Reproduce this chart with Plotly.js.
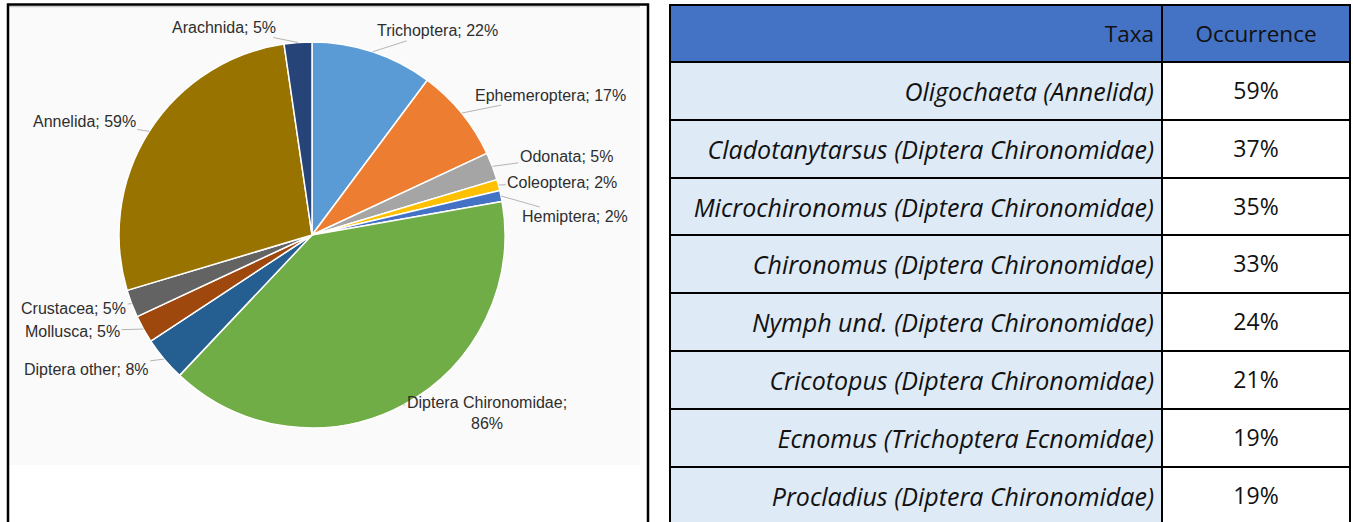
<!DOCTYPE html>
<html><head><meta charset="utf-8">
<script src="https://cdn.plot.ly/plotly-3.0.1.min.js"></script>
<style>html,body{margin:0;padding:0;overflow:hidden;background:#fff}</style>
</head><body><div id="chart" style="width:1353px;height:540px"></div>
<script>
// ---------- data ----------
const groups = ['Trichoptera','Ephemeroptera','Odonata','Coleoptera','Hemiptera','Diptera Chironomidae','Diptera other','Mollusca','Crustacea','Annelida','Arachnida'];
const groupOccurrence = [22,17,5,2,2,86,8,5,5,59,5];
const tableHeader = ['Taxa','Occurrence'];
const taxa = ['Oligochaeta (Annelida)','Cladotanytarsus (Diptera Chironomidae)','Microchironomus (Diptera Chironomidae)','Chironomus (Diptera Chironomidae)','Nymph und. (Diptera Chironomidae)','Cricotopus (Diptera Chironomidae)','Ecnomus (Trichoptera Ecnomidae)','Procladius (Diptera Chironomidae)'];
const taxaOccurrence = [59,37,35,33,24,21,19,19];

// ---------- styles ----------
const sliceColors = ['#5b9bd5','#ed7d31','#a5a5a5','#ffc000','#4472c4','#70ad47','#255e91','#9e480e','#636363','#997300','#264478'];
// label offsets (px) from the slice mid point to the label centre
const labelOffsets = [[65,-21],[89,-18],[74,-10],[64,-3],[74,21],[83,8],[-78,10],[-71,2],[-58,5],[-65,-10],[-74,-15]];

const W = 1353, H = 540;
const cx = 312, cy = 235, R = 193;
const px = v => v / W, py = v => 1 - v / H;

// labels with leader lines anchored at each slice's mid angle
const total = groupOccurrence.reduce((a, b) => a + b, 0);
let cum = 0;
const annotations = groups.map((g, i) => {
  const v = groupOccurrence[i];
  const mid = (cum + v / 2) / total * 2 * Math.PI;
  cum += v;
  const ax = cx + R * Math.sin(mid), ay = cy - R * Math.cos(mid);
  const txt = g + ';' + (g.length > 15 ? '<br>' : ' ') + v + '%';
  return {
    x: px(ax), y: py(ay), xref: 'paper', yref: 'paper',
    text: txt, showarrow: true, arrowhead: 0, arrowwidth: 1, arrowcolor: '#b5b5b5',
    ax: labelOffsets[i][0], ay: labelOffsets[i][1], standoff: 0,
    font: {family: 'Liberation Sans, Arial, sans-serif', size: 16, color: '#2e2e2e'}
  };
});

const pie = {
  type: 'pie', labels: groups, values: groupOccurrence, sort: false,
  direction: 'clockwise', rotation: 0, textinfo: 'none', hoverinfo: 'skip',
  marker: {colors: sliceColors, line: {color: '#ffffff', width: 1.5}},
  domain: {x: [px(cx - R), px(cx + R)], y: [py(cy + R), py(cy - R)]},
  showlegend: false
};

// cell text: a blank first line nudges the visible text down so it sits mid-row
const cellText = (t, size, italic) =>
  '<span style="font-size:' + size + 'px">\u00a0</span><br>' +
  '<span style="font-size:' + size + 'px">' + (italic ? '<i>' + t + '</i>' : t) + '</span>';

const table = {
  type: 'table',
  domain: {x: [px(670), px(1350)], y: [0, py(4.5)]},
  columnwidth: [492, 188],
  header: {
    values: tableHeader.map(h => cellText(h, 22.5, false)),
    align: ['right', 'center'], height: 57.5,
    fill: {color: '#4472c4'}, line: {color: '#000000', width: 2},
    font: {family: 'Open Sans, sans-serif', size: 4.6, color: '#111111'}
  },
  cells: {
    values: [taxa.map(t => cellText(t, 25, true)), taxaOccurrence.map(v => cellText(v + '%', 23, false))],
    align: ['right', 'center'], height: 57.8,
    fill: {color: ['#deeaf6', '#ffffff']}, line: {color: '#000000', width: 2},
    font: {family: 'Open Sans, sans-serif', size: 3.1, color: '#111111'}
  }
};

const layout = {
  width: W, height: H, margin: {l: 0, r: 0, t: 0, b: 0},
  paper_bgcolor: '#ffffff', showlegend: false,
  annotations: annotations,
  shapes: [
    {type: 'rect', xref: 'paper', yref: 'paper', layer: 'below',
     x0: px(9), x1: px(640), y0: py(465), y1: py(5.5),
     fillcolor: '#fafafa', line: {width: 0}},
    {type: 'line', xref: 'paper', yref: 'paper', layer: 'below',
     x0: px(9), x1: px(640), y0: py(6.5), y1: py(6.5),
     line: {color: '#c8c8c8', width: 1.5}},
    {type: 'rect', xref: 'paper', yref: 'paper', layer: 'above',
     x0: px(8), x1: px(648), y0: py(560), y1: py(4.5),
     line: {color: '#000000', width: 2.5}}
  ]
};

Plotly.newPlot('chart', [pie, table], layout, {staticPlot: true, displayModeBar: false});
</script></body></html>
